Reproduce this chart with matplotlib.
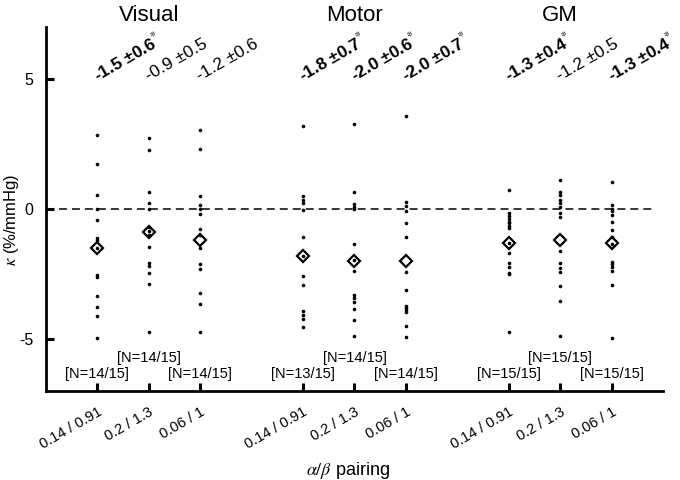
import numpy as np
import matplotlib
matplotlib.use('Agg')
import matplotlib.pyplot as plt
from matplotlib.transforms import ScaledTranslation

plt.rcParams['font.family'] = ['Liberation Sans', 'DejaVu Sans']
plt.rcParams['mathtext.fontset'] = 'stix'

groups = ['Visual', 'Motor', 'GM']
pairings = ['0.14 / 0.91', '0.2 / 1.3', '0.06 / 1']
xpos = [1, 2, 3, 5, 6, 7, 9, 10, 11]

# individual subject kappa values
vis_1 = [2.84, 1.74, 0.54, 0.0, -0.41, -1.12, -1.21, -1.5, -2.55, -2.61, -3.35, -3.77, -4.12, -4.95]
vis_2 = [2.72, 2.27, 0.66, 0.22, 0.0, -0.7, -0.84, -0.99, -1.46, -2.09, -2.18, -2.48, -2.9, -4.72]
vis_3 = [3.05, 2.30, 0.49, 0.17, 0.0, -0.18, -0.76, -1.0, -1.51, -2.12, -2.29, -3.22, -3.64, -4.72]
mot_1 = [3.20, 0.49, 0.36, 0.23, -0.03, -1.06, -1.81, -2.57, -2.92, -3.93, -4.07, -4.25, -4.53]
mot_2 = [3.27, 0.66, 0.2, 0.08, -0.02, -1.34, -1.97, -2.38, -3.29, -3.41, -3.58, -3.86, -4.26, -4.87]
mot_3 = [3.59, 0.26, 0.10, -0.09, -0.54, -1.06, -2.44, -3.10, -3.75, -3.82, -3.88, -3.95, -4.51, -4.94]
gm_1 = [0.71, -0.16, -0.26, -0.38, -0.50, -0.55, -0.65, -0.75, -1.30, -1.70, -2.07, -2.25, -2.46, -2.51, -4.72]
gm_2 = [1.12, 0.64, 0.52, 0.36, 0.23, 0.08, -0.16, -0.31, -1.6, -2.07, -2.26, -2.42, -2.96, -3.54, -4.9]
gm_3 = [1.03, 0.17, 0.0, -0.09, -0.22, -0.52, -0.80, -1.06, -1.35, -2.03, -2.12, -2.25, -2.39, -2.91, -4.96]
columns = [vis_1, vis_2, vis_3, mot_1, mot_2, mot_3, gm_1, gm_2, gm_3]

means = [-1.5, -0.9, -1.2, -1.8, -2.0, -2.0, -1.3, -1.2, -1.3]
sems = [0.6, 0.5, 0.6, 0.7, 0.6, 0.7, 0.4, 0.5, 0.4]
signif = [True, False, False, True, True, True, True, False, True]
n_used = [14, 14, 14, 13, 14, 14, 15, 15, 15]
n_total = 15

fig = plt.figure(figsize=(6.8, 4.8), dpi=100)
ax = fig.add_axes([0.0676, 0.1854, 0.9074, 0.7586])

ax.plot([0, 11.8], [0, 0], color='black', lw=1.1, dashes=(5.2, 3.3), zorder=1)

for i, x in enumerate(xpos):
    vals = columns[i]
    ax.plot([x] * len(vals), vals, 'o', color='black', ms=2.6, mec='none', zorder=2)
    ax.plot(x, means[i], 'D', mfc='none', mec='black', mew=1.6, ms=6.5, zorder=3)
    lab = '%.1f \u00b1%.1f' % (means[i], sems[i])
    if signif[i]:
        lab = lab + '$^{*}$'
        w = 'bold'
    else:
        w = 'normal'
    ax.text(x, 4.9, lab, rotation=30, rotation_mode='anchor', ha='left', va='baseline',
            fontsize=12.5, fontweight=w)
    ny = -5.72 if i % 3 == 1 else -6.35
    ax.text(x, ny, '[N=%d/%d]' % (n_used[i], n_total), ha='center', va='center', fontsize=10.5)

for g, name in enumerate(groups):
    ax.text(xpos[g * 3 + 1], 7.45, name, ha='center', va='center', fontsize=16, clip_on=False)

ax.set_xlim(0, 12)
ax.set_ylim(-7, 7)
ax.set_xticks(xpos)
ax.set_xticklabels(pairings * 3, rotation=30, ha='right', rotation_mode='anchor', fontsize=10.5)
shift = ScaledTranslation(-7 / 100, 0, fig.dpi_scale_trans)
for t in ax.get_xticklabels():
    t.set_transform(t.get_transform() + shift)
ax.set_yticks([-5, 0, 5])
ax.set_yticklabels(['-5', '0', '5'], fontsize=11.5)
ax.tick_params(direction='in', length=6, width=2.2)
ax.tick_params(axis='x', pad=10)
ax.tick_params(axis='y', pad=9)
for s in ['top', 'right']:
    ax.spines[s].set_visible(False)
for s in ['left', 'bottom']:
    ax.spines[s].set_linewidth(2)

ax.set_xlabel(r'$\alpha/\beta$ pairing', fontsize=13)
ax.xaxis.set_label_coords(0.49, -0.19)
ax.set_ylabel(r'$\kappa$ (%/mmHg)', fontsize=12)
ax.yaxis.set_label_coords(-0.04, 0.47)

fig.savefig('out.png', dpi=100)
